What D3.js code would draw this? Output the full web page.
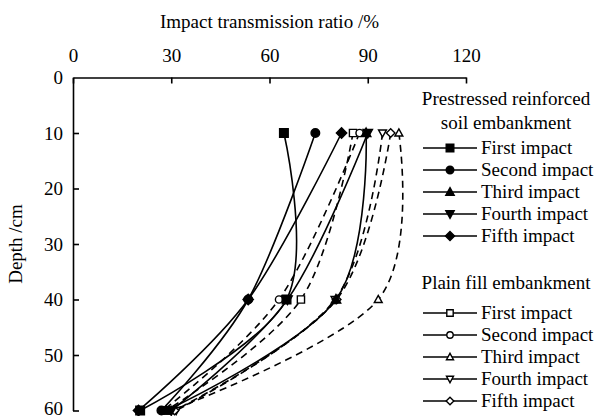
<!DOCTYPE html>
<html>
<head>
<meta charset="utf-8">
<script src="https://cdn.jsdelivr.net/npm/d3@7"></script>
<style>
  body { margin: 0; background: #fff; }
  svg { display: block; }
  svg text { font-family: "Liberation Serif", "Times New Roman", serif !important; fill: #000; }
</style>
</head>
<body>
<svg id="chart" width="604" height="416"></svg>
<script>
// Measured depths (cm) and impact transmission ratios (%) for each impact
const depths = [10, 40, 60];
const impactNames = ["First impact", "Second impact", "Third impact", "Fourth impact", "Fifth impact"];
const markerShapes = ["square", "circle", "triangle", "triangleDown", "diamond"];
const reinforcedRatios = [
  [64.4, 65.2, 20.5],
  [74.0, 53.5, 27.0],
  [89.5, 80.3, 28.5],
  [90.0, 65.5, 30.0],
  [82.0, 53.5, 20.0]
];
const plainRatios = [
  [85.5, 69.6, 28.5],
  [87.5, 62.9, 27.5],
  [99.5, 93.2, 30.0],
  [94.5, 80.0, 31.5],
  [97.0, 80.5, 31.0]
];
const xTicks = [0, 30, 60, 90, 120];
const yTicks = [0, 10, 20, 30, 40, 50, 60];
const groupTitles = [["Prestressed reinforced", "soil embankment"], ["Plain fill embankment"]];

const FONT = 19;
const svg = d3.select("#chart");
const x = d3.scaleLinear().domain([0, 120]).range([73, 466]);
const y = d3.scaleLinear().domain([0, 60]).range([77.5, 410.5]);

// Marker path generator (centered at 0,0)
function markerPath(shape, s) {
  switch (shape) {
    case "square": return `M${-s},${-s}H${s}V${s}H${-s}Z`;
    case "circle": return `M${s},0A${s},${s} 0 1,1 ${-s},0A${s},${s} 0 1,1 ${s},0Z`;
    case "triangle": return `M0,${-s * 1.15}L${s * 1.1},${s * 0.85}L${-s * 1.1},${s * 0.85}Z`;
    case "triangleDown": return `M0,${s * 1.15}L${s * 1.1},${-s * 0.85}L${-s * 1.1},${-s * 0.85}Z`;
    case "diamond": return `M0,${-s * 1.2}L${s * 1.2},0L0,${s * 1.2}L${-s * 1.2},0Z`;
  }
}

// Axes: value axis along the top, depth axis on the left, ticks pointing inward
const xAxis = d3.axisTop(x).tickValues(xTicks).tickSizeInner(-6).tickSizeOuter(0).tickPadding(16);
const gx = svg.append("g").attr("transform", `translate(0,${y(0)})`).call(xAxis);
const yAxis = d3.axisLeft(y).tickValues(yTicks).tickSizeInner(-6).tickSizeOuter(0).tickPadding(10);
const gy = svg.append("g").attr("transform", `translate(${x(0)},0)`).call(yAxis);
[gx, gy].forEach(g => {
  g.attr("font-family", null).attr("font-size", null);
  g.selectAll("path, line").attr("stroke", "#000").attr("stroke-width", 1.6);
  g.selectAll("text").attr("font-size", FONT);
});
gy.selectAll(".tick").filter(d => d === 0).select("line").remove();
gy.selectAll(".tick").filter(d => d === 60).select("text").attr("dy", "0.22em");

// Axis titles
svg.append("text").attr("x", (x(0) + x(120)) / 2).attr("y", 28)
  .attr("text-anchor", "middle").attr("font-size", FONT).text("Impact transmission ratio /%");
svg.append("text").attr("transform", `translate(22,${(y(0) + y(60)) / 2}) rotate(-90)`)
  .attr("text-anchor", "middle").attr("font-size", FONT).text("Depth /cm");

const line = d3.line().x(d => x(d.v)).y(d => y(d.depth)).curve(d3.curveCardinal.tension(0));

function drawGroup(ratios, filled, dashed) {
  ratios.forEach(vals => {
    const pts = vals.map((v, k) => ({ v, depth: depths[k] }));
    svg.append("path").datum(pts).attr("d", line)
      .attr("fill", "none").attr("stroke", "#000").attr("stroke-width", 1.6)
      .attr("stroke-dasharray", dashed ? "7,5" : null);
  });
  ratios.forEach((vals, i) => {
    vals.forEach((v, k) => {
      svg.append("path")
        .attr("d", markerPath(markerShapes[i], filled ? 4.3 : 3.6))
        .attr("transform", `translate(${x(v)},${y(depths[k])})`)
        .attr("fill", filled ? "#000" : "#fff")
        .attr("stroke", "#000").attr("stroke-width", 1.4);
    });
  });
}
drawGroup(plainRatios, false, true);
drawGroup(reinforcedRatios, true, false);

// Legends: one block per embankment type
function drawLegend(titles, titleY, rowsY, filled) {
  titles.forEach((t, j) => {
    svg.append("text").attr("x", 506).attr("y", titleY + j * 24)
      .attr("text-anchor", "middle").attr("font-size", FONT).text(t);
  });
  impactNames.forEach((name, i) => {
    const cy = rowsY + i * 22;
    svg.append("line").attr("x1", 423).attr("x2", 477).attr("y1", cy).attr("y2", cy)
      .attr("stroke", "#000").attr("stroke-width", 1.6);
    svg.append("path").attr("d", markerPath(markerShapes[i], filled ? 3.8 : 3.2))
      .attr("transform", `translate(450,${cy})`)
      .attr("fill", filled ? "#000" : "#fff").attr("stroke", "#000").attr("stroke-width", 1.4);
    svg.append("text").attr("x", 481).attr("y", cy + 6).attr("font-size", FONT).text(name);
  });
}
drawLegend(groupTitles[0], 105, 148, true);
drawLegend(groupTitles[1], 289, 313, false);
</script>
</body>
</html>
